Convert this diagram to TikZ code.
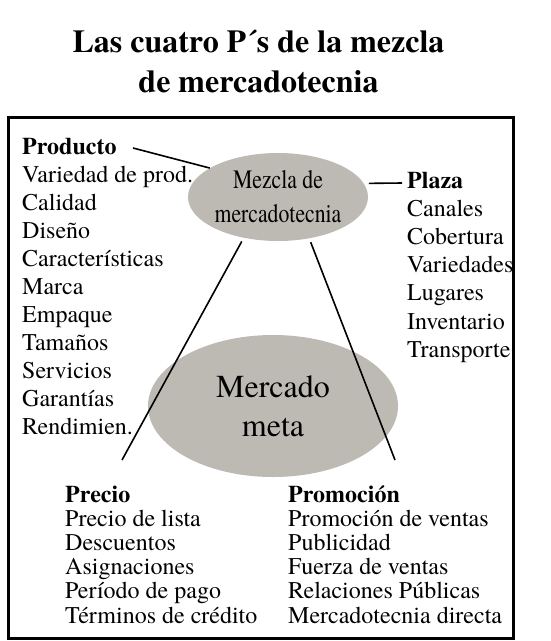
\documentclass[tikz,border=0pt]{standalone}
\usepackage{fontspec}
\setmainfont{texgyretermes}[Extension=.otf,UprightFont=*-regular,BoldFont=*-bold,ItalicFont=*-italic,BoldItalicFont=*-bolditalic]
\newfontfamily\narrowfont{texgyretermes}[Extension=.otf,UprightFont=*-regular,FakeStretch=0.82]
\usetikzlibrary{shapes.geometric}
\definecolor{blobgray}{RGB}{189,186,180}

\begin{document}
\begin{tikzpicture}[x=1pt,y=-1pt,
  every node/.style={inner sep=0pt},
  item/.style={anchor=base west,font=\fontsize{24}{28}\selectfont},
  head/.style={item,font=\fontsize{24}{28}\selectfont\bfseries},
  blob/.style={ellipse,fill=blobgray,align=center},
  link/.style={line width=1.6pt}]
  \useasboundingbox (0,0) rectangle (551,641);

  % title
  \node[anchor=base,font=\fontsize{32}{40}\selectfont\bfseries] (title1) at (258.5,52) {Las cuatro P´s de la mezcla};
  \node[anchor=base,font=\fontsize{32}{40}\selectfont\bfseries] (title2) at (258.5,92) {de mercadotecnia};

  \draw[line width=3pt] (8,117) rectangle (513,638);

  % the two ellipses
  \node[blob,minimum width=180pt,minimum height=88pt,font=\narrowfont\fontsize{26.5}{34}\selectfont] (mezcla) at (278,197) {Mezcla de\\mercadotecnia};
  \node[blob,minimum width=250pt,minimum height=142pt,font=\fontsize{32}{39}\selectfont] (meta) at (273,406) {Mercado\\meta};

  % the four lists
  \node[head] (prod) at (22,154) {Producto};
  \foreach \txt [count=\i from 0] in {Variedad de prod.,Calidad,Diseño,Características,Marca,Empaque,Tamaños,Servicios,Garantías,Rendimien.}
    \node[item] (prod-\i) at (22,182+28*\i) {\txt};

  \node[head] (plaza) at (407,188) {Plaza};
  \foreach \txt [count=\i from 0] in {Canales,Cobertura,Variedades,Lugares,Inventario,Transporte}
    \node[item] (plaza-\i) at (407,216+28.3*\i) {\txt};

  \node[head] (precio) at (65,502) {Precio};
  \foreach \txt [count=\i from 0] in {Precio de lista,Descuentos,Asignaciones,Período de pago,Términos de crédito}
    \node[item] (precio-\i) at (65,526.2+24.2*\i) {\txt};

  \node[head] (promo) at (288,502) {Promoción};
  \foreach \txt [count=\i from 0] in {Promoción de ventas,Publicidad,Fuerza de ventas,Relaciones Públicas,Mercadotecnia directa}
    \node[item] (promo-\i) at (288,526.2+24.2*\i) {\txt};

  % connectors
  \coordinate (prod-end) at (133,148);
  \coordinate (plaza-end) at (402,183);
  \coordinate (precio-end) at (122,460);
  \coordinate (promo-end) at (395,460);
  \draw[link] (prod-end) -- (mezcla.157);
  \draw[link,shorten <=5pt] (mezcla.9) -- (plaza-end);
  \draw[link,shorten <=4pt] (mezcla.230) -- (precio-end);
  \draw[link,shorten <=4pt] (mezcla.307) -- (promo-end);
\end{tikzpicture}
\end{document}
